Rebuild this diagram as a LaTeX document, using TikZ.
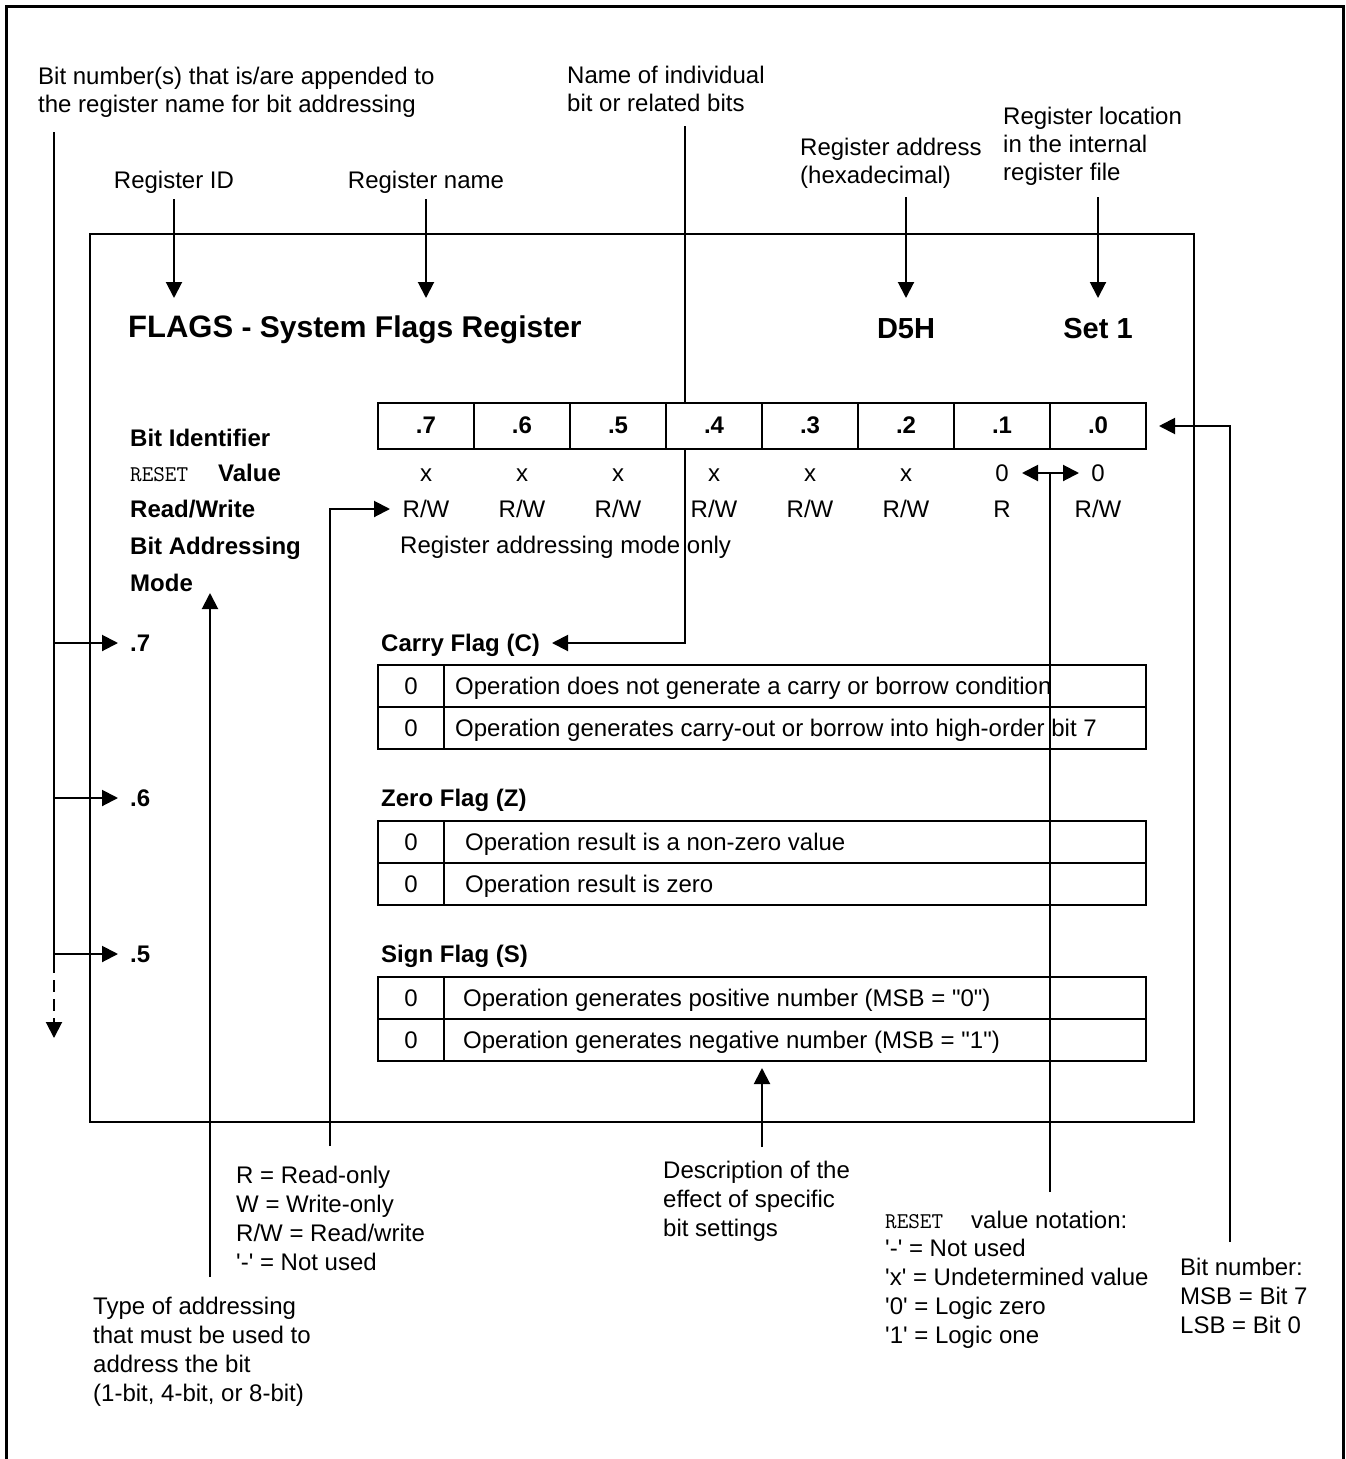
\documentclass[tikz,border=0pt]{standalone}
\usepackage{fontspec}
\setmainfont{Liberation Sans}[Ligatures=TeXOff]
\usetikzlibrary{arrows.meta}
\tikzset{
  txt/.style={anchor=base west, inner sep=0pt, font=\fontsize{24}{29}\selectfont},
  txtc/.style={anchor=base, inner sep=0pt, font=\fontsize{24}{29}\selectfont},
  btxt/.style={anchor=base west, inner sep=0pt, font=\fontsize{24}{29}\selectfont\bfseries},
  btxtc/.style={anchor=base, inner sep=0pt, font=\fontsize{24}{29}\selectfont\bfseries},
  ttxt/.style={anchor=base west, inner sep=0pt, font=\fontsize{22.5}{29}\selectfont\ttfamily},
  big/.style={anchor=base, inner sep=0pt, font=\fontsize{29}{34}\selectfont\bfseries},
  ln/.style={line width=2pt},
  arr/.style={line width=2pt, -{Triangle[length=16pt,width=16pt]}},
  darr/.style={line width=2pt, {Triangle[length=16pt,width=16pt]}-{Triangle[length=16pt,width=16pt]}},
}
\begin{document}
\begin{tikzpicture}[x=1pt,y=-1pt]
\useasboundingbox (0,0) rectangle (1346,1459);
% outer border
\draw[line width=3pt] (6,1475) -- (6,6) -- (1343,6) -- (1343,1475);
% inner frame
\draw[ln] (90,234) rectangle (1194,1122);

% ---------- top annotations ----------
\node[txt] (bn1) at (38,84) {Bit number(s) that is/are appended to};
\node[txt] (bn2) at (38,112) {the register name for bit addressing};
\node[txt] (ni1) at (567,83) {Name of individual};
\node[txt] (ni2) at (567,111) {bit or related bits};
\node[txt] (ra1) at (800,155) {Register address};
\node[txt] (ra2) at (800,183) {(hexadecimal)};
\node[txt] (rl1) at (1003,124) {Register location};
\node[txt] (rl2) at (1003,152) {in the internal};
\node[txt] (rl3) at (1003,180) {register file};
\node[txtc] (rid) at (174,188) {Register ID};
\node[txtc] (rname) at (426,188) {Register name};

% ---------- title ----------
\node[anchor=base west, inner sep=0pt] (title) at (128,337)
  {\fontsize{31}{34}\selectfont\bfseries FLAGS\fontsize{30}{34}\selectfont\ - System Flags Register};
\node[big] (addr) at (906,338) {D5H};
\node[big] (set) at (1098,338) {Set 1};

% ---------- row labels ----------
\node[btxt] (lbid) at (130,446) {Bit Identifier};
\node[ttxt] (lbrst) at (130,481) {RESET};
\node[btxt] (lbval) at (218,481) {Value};
\node[btxt] (lbrw) at (130,517) {Read/Write};
\node[btxt] (lbba) at (130,554) {Bit Addressing};
\node[btxt] (lbmo) at (130,591) {Mode};

% ---------- bit box ----------
\draw[ln] (378,403) rectangle (1146,449);
\foreach \i in {1,...,7} \draw[ln] ({378+96*\i},403) -- ({378+96*\i},449);
\foreach \b/\i in {7/0,6/1,5/2,4/3,3/4,2/5,1/6,0/7}
  \node[btxtc] (bit\b) at ({426+96*\i},433) {.\b};
\foreach \v/\i in {x/0,x/1,x/2,x/3,x/4,x/5,0/6,0/7}
  \node[txtc] (val\i) at ({426+96*\i},481) {\v};
\foreach \v/\i in {R\slash W/0,R\slash W/1,R\slash W/2,R\slash W/3,R\slash W/4,R\slash W/5,R/6,R\slash W/7}
  \node[txtc] (rw\i) at ({426+96*\i},517) {\v};
\node[txt] (ramo) at (400,553) {Register addressing mode only};

% ---------- flags ----------
\node[btxt] (b7) at (130,651) {.7};
\node[btxt] (b6) at (130,806) {.6};
\node[btxt] (b5) at (130,962) {.5};
\node[btxt] (cf) at (381,651) {Carry Flag (C)};
\node[btxt] (zf) at (381,806) {Zero Flag (Z)};
\node[btxt] (sf) at (381,962) {Sign Flag (S)};

\foreach \y in {665,821,977} {
  \draw[ln] (378,\y) rectangle (1146,{\y+84});
  \draw[ln] (378,{\y+42}) -- (1146,{\y+42});
  \draw[ln] (444,\y) -- (444,{\y+84});
}
\node[txtc] (c1v) at (411,694) {0};
\node[txtc] (c2v) at (411,736) {0};
\node[txt] (c1t) at (455,694) {Operation does not generate a carry or borrow condition};
\node[txt] (c2t) at (455,736) {Operation generates carry-out or borrow into high-order bit 7};
\node[txtc] (z1v) at (411,850) {0};
\node[txtc] (z2v) at (411,892) {0};
\node[txt] (z1t) at (465,850) {Operation result is a non-zero value};
\node[txt] (z2t) at (465,892) {Operation result is zero};
\node[txtc] (s1v) at (411,1006) {0};
\node[txtc] (s2v) at (411,1048) {0};
\node[txt] (s1t) at (463,1006) {Operation generates positive number (MSB = "0")};
\node[txt] (s2t) at (463,1048) {Operation generates negative number (MSB = "1")};

% ---------- bottom annotations ----------
\node[txt] (n1) at (236,1183) {R = Read-only};
\node[txt] (n2) at (236,1212) {W = Write-only};
\node[txt] (n3) at (236,1241) {R/W = Read/write};
\node[txt] (n4) at (236,1270) {'-' = Not used};
\node[txt] (ty1) at (93,1314) {Type of addressing};
\node[txt] (ty2) at (93,1343) {that must be used to};
\node[txt] (ty3) at (93,1372) {address the bit};
\node[txt] (ty4) at (93,1401) {(1-bit, 4-bit, or 8-bit)};
\node[txt] (de1) at (663,1178) {Description of the};
\node[txt] (de2) at (663,1207) {effect of specific};
\node[txt] (de3) at (663,1236) {bit settings};
\node[ttxt] (rv0) at (885,1228) {RESET};
\node[txt] (rv0b) at (971,1228) {value notation:};
\node[txt] (rv1) at (885,1256) {'-' = Not used};
\node[txt] (rv2) at (885,1285) {'x' = Undetermined value};
\node[txt] (rv3) at (885,1314) {'0' = Logic zero};
\node[txt] (rv4) at (885,1343) {'1' = Logic one};
\node[txt] (bb1) at (1180,1275) {Bit number:};
\node[txt] (bb2) at (1180,1304) {MSB = Bit 7};
\node[txt] (bb3) at (1180,1333) {LSB = Bit 0};

% ---------- connector coordinates ----------
\coordinate (bnTop) at (54,132);
\coordinate (bn7) at (54,643);
\coordinate (bn6) at (54,798);
\coordinate (bn5) at (54,954);
\coordinate (bnSolid) at (54,961);
\coordinate (bnTip) at (54,1038);
\coordinate (t7) at (118,643);
\coordinate (t6) at (118,798);
\coordinate (t5) at (118,954);
\coordinate (ridTop) at (174,199);
\coordinate (ridTip) at (174,298);
\coordinate (rnTop) at (426,199);
\coordinate (rnTip) at (426,298);
\coordinate (niTop) at (685,126);
\coordinate (niBoxT) at (685,403);
\coordinate (niBoxB) at (685,449);
\coordinate (niCorner) at (685,643);
\coordinate (niTip) at (552,643);
\coordinate (raTop) at (906,197);
\coordinate (raTip) at (906,298);
\coordinate (rlTop) at (1098,197);
\coordinate (rlTip) at (1098,298);
\coordinate (bbBot) at (1230,1242);
\coordinate (bbCorner) at (1230,426);
\coordinate (bbTip) at (1159,426);
\coordinate (rvBot) at (1050,1192);
\coordinate (rvJoin) at (1050,473);
\coordinate (rvL) at (1022,473);
\coordinate (rvR) at (1079,473);
\coordinate (rwBot) at (330,1146);
\coordinate (rwCorner) at (330,509);
\coordinate (rwTip) at (390,509);
\coordinate (moBot) at (210,1277);
\coordinate (moTip) at (210,593);
\coordinate (deBot) at (762,1147);
\coordinate (deTip) at (762,1068);

% ---------- connectors ----------
\draw[ln] (bnTop) -- (bnSolid);
\draw[arr, dash pattern=on 12pt off 7pt] (bnSolid) -- (bnTip);
\draw[arr] (bn7) -- (t7);
\draw[arr] (bn6) -- (t6);
\draw[arr] (bn5) -- (t5);
\draw[arr] (ridTop) -- (ridTip);
\draw[arr] (rnTop) -- (rnTip);
\draw[ln] (niTop) -- (niBoxT);
\draw[arr] (niBoxB) -- (niCorner) -- (niTip);
\draw[arr] (raTop) -- (raTip);
\draw[arr] (rlTop) -- (rlTip);
\draw[arr] (bbBot) -- (bbCorner) -- (bbTip);
\draw[ln] (rvBot) -- (rvJoin);
\draw[darr] (rvL) -- (rvR);
\draw[arr] (rwBot) -- (rwCorner) -- (rwTip);
\draw[arr] (moBot) -- (moTip);
\draw[arr] (deBot) -- (deTip);
\end{tikzpicture}
\end{document}
